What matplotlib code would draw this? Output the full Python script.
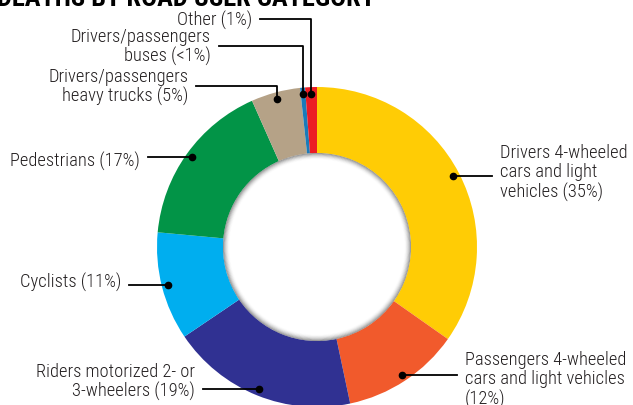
import numpy as np
import matplotlib
matplotlib.use("Agg")
import matplotlib.pyplot as plt
from matplotlib.patches import Wedge

plt.rcParams["font.family"] = ["Roboto Condensed", "DejaVu Sans"]

# clockwise from 12 o'clock
categories = ["Drivers 4-wheeled\ncars and light\nvehicles (35%)",
              "Passengers 4-wheeled\ncars and light vehicles\n(12%)",
              "Riders motorized 2- or\n3-wheelers (19%)",
              "Cyclists (11%)",
              "Pedestrians (17%)",
              "Drivers/passengers\nheavy trucks (5%)",
              "Drivers/passengers\nbuses (<1%)",
              "Other (1%)"]
shares = [35, 12, 19, 11, 17, 5, 0.5, 1.2]
colors = ["#FFCC05", "#F15A2C", "#303192", "#00AEEF", "#029447", "#B5A287", "#1A7BB9", "#EC1C24"]

W, H = 633, 406
CX, CY, R, R_IN = 317, H - 248, 160, 94

fig = plt.figure(figsize=(W / 100, H / 100), dpi=100)
ax = fig.add_axes([0, 0, 1, 1])
wedges, _ = ax.pie(shares, colors=colors, startangle=90, counterclock=False,
                   center=(CX, CY), radius=R,
                   wedgeprops=dict(width=R - R_IN, linewidth=0))

# inner shadow around the hole
for i in range(8):
    ax.add_patch(Wedge((CX, CY), R_IN - i * 0.8, 0, 360, width=0.9,
                       facecolor="#3a3a3a", alpha=0.5 * (1 - i / 8) ** 2, lw=0))

# label layout: (text x, text y, ha, elbow y or None), y in px from top
layout = [
    (500, 173, "left", None),
    (465, 380, "left", None),
    (195, 382, "right", None),
    (121, 282, "right", None),
    (140, 161, "right", None),
    (188, 87, "right", 87),
    (211, 47, "right", 47),
    (252, 20, "right", 20),
]

for w, lab, (tx, ty, ha, elbow) in zip(wedges, categories, layout):
    mid = np.deg2rad((w.theta1 + w.theta2) / 2)
    dx = CX + 0.96 * R * np.cos(mid)
    dy = CY + 0.96 * R * np.sin(mid)
    ty_d = H - ty
    gap = 8 if ha == "right" else -8
    if elbow is None:
        ax.plot([tx + gap, dx], [dy, dy], color="black", lw=1.3)
    else:
        ax.plot([tx + gap, dx, dx], [ty_d, ty_d, dy], color="black", lw=1.3)
    ax.plot(dx, dy, "o", color="black", ms=4.5)
    ax.text(tx, ty_d, lab, ha=ha, va="center", fontsize=13.3, fontweight="light",
            color="#231F20", linespacing=1.1, multialignment=ha)

ax.text(-3, H - 6, "DEATHS BY ROAD USER CATEGORY", ha="left", va="baseline",
        fontsize=19, fontweight="bold", color="black")

ax.set_xlim(0, W)
ax.set_ylim(0, H)
ax.set_aspect("equal")
ax.axis("off")
fig.savefig("out.png", dpi=100, facecolor="white")
